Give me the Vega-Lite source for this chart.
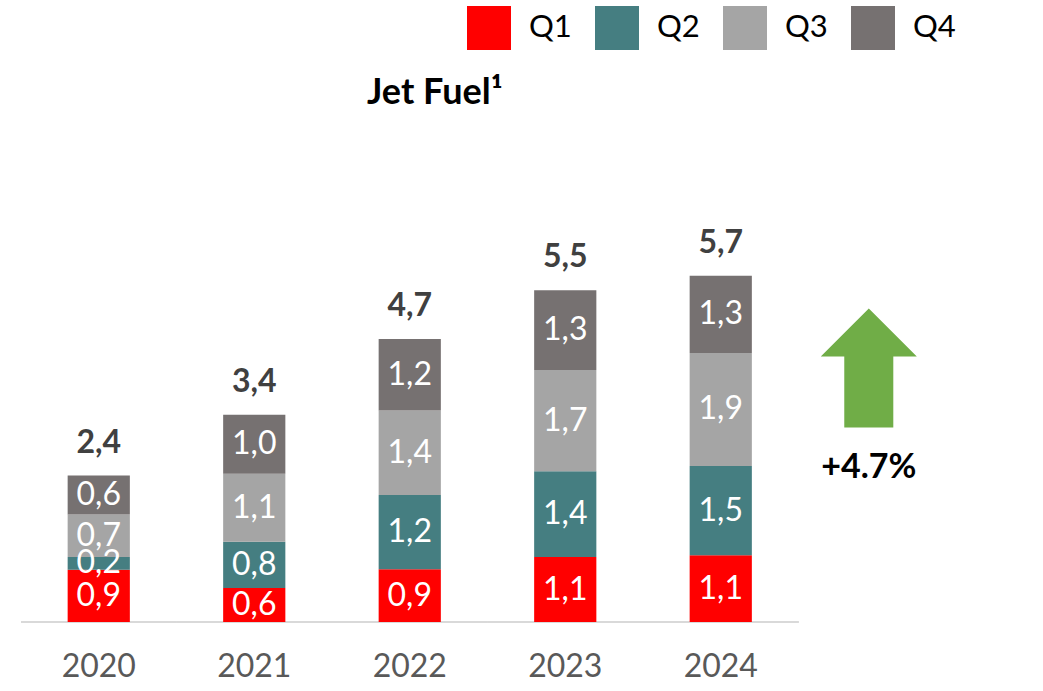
{
  "$schema": "https://vega.github.io/schema/vega-lite/v6.json",
  "width": 933,
  "height": 492,
  "autosize": {"type": "none"},
  "padding": {"left": 21, "top": 130, "right": 89, "bottom": 69},
  "background": "white",
  "title": {"text": "Jet Fuel¹", "anchor": "start", "frame": "group", "dx": 346, "offset": -134, "baseline": "alphabetic", "font": "Lato", "fontSize": 36, "fontWeight": "bold", "color": "#000000"},
  "data": {"values": [
    {"year": "2020", "quarter": "Q1", "value": 0.86},
    {"year": "2020", "quarter": "Q2", "value": 0.21},
    {"year": "2020", "quarter": "Q3", "value": 0.70},
    {"year": "2020", "quarter": "Q4", "value": 0.64},
    {"year": "2021", "quarter": "Q1", "value": 0.56},
    {"year": "2021", "quarter": "Q2", "value": 0.76},
    {"year": "2021", "quarter": "Q3", "value": 1.12},
    {"year": "2021", "quarter": "Q4", "value": 0.97},
    {"year": "2022", "quarter": "Q1", "value": 0.87},
    {"year": "2022", "quarter": "Q2", "value": 1.22},
    {"year": "2022", "quarter": "Q3", "value": 1.39},
    {"year": "2022", "quarter": "Q4", "value": 1.18},
    {"year": "2023", "quarter": "Q1", "value": 1.07},
    {"year": "2023", "quarter": "Q2", "value": 1.41},
    {"year": "2023", "quarter": "Q3", "value": 1.67},
    {"year": "2023", "quarter": "Q4", "value": 1.31},
    {"year": "2024", "quarter": "Q1", "value": 1.10},
    {"year": "2024", "quarter": "Q2", "value": 1.47},
    {"year": "2024", "quarter": "Q3", "value": 1.86},
    {"year": "2024", "quarter": "Q4", "value": 1.27}
  ]},
  "layer": [
    {
      "mark": {"type": "bar", "color": "#D9D9D9", "width": {"band": 2.5}},
      "encoding": {
        "x": {"field": "year", "type": "nominal", "title": null,
              "scale": {"domain": ["2020", "2021", "2022", "2023", "2024", " "], "paddingInner": 0.6, "paddingOuter": 0.3}},
        "y": {"datum": 0.017, "type": "quantitative", "scale": {"domain": [0, 8.1], "nice": false}},
        "y2": {"datum": -0.017}
      }
    },
    {
      "mark": {"type": "bar"},
      "encoding": {
        "x": {"field": "year", "type": "nominal", "title": null},
        "y": {"field": "value", "type": "quantitative", "stack": "zero", "axis": null},
        "color": {"field": "quarter", "type": "nominal",
                  "scale": {"domain": ["Q1", "Q2", "Q3", "Q4"], "range": ["#FF0000", "#457E81", "#A5A5A5", "#767171"]},
                  "legend": {"orient": "none", "legendX": 446, "legendY": -124, "direction": "horizontal", "title": null,
                             "symbolType": "square", "symbolSize": 1936, "symbolStrokeWidth": 0, "symbolOpacity": 1,
                             "labelFontSize": 31, "labelFont": "Lato", "labelColor": "#000000", "labelOffset": 18,
                             "columnPadding": 23, "padding": 0}},
        "order": {"field": "quarter", "type": "nominal", "sort": "ascending"}
      }
    },
    {
      "mark": {"type": "text", "color": "#FFFFFF", "font": "Lato", "fontSize": 32, "baseline": "middle"},
      "encoding": {
        "x": {"field": "year", "type": "nominal", "title": null},
        "y": {"field": "value", "type": "quantitative", "stack": "zero", "bandPosition": 0.5},
        "detail": {"field": "quarter", "type": "nominal"},
        "order": {"field": "quarter", "type": "nominal", "sort": "ascending"},
        "text": {"field": "value", "type": "quantitative", "format": ".1f"}
      }
    },
    {
      "mark": {"type": "text", "color": "#404040", "font": "Lato", "fontSize": 32, "fontWeight": "bold", "baseline": "alphabetic", "dy": -23},
      "encoding": {
        "x": {"field": "year", "type": "nominal", "title": null},
        "y": {"aggregate": "sum", "field": "value", "type": "quantitative"},
        "text": {"aggregate": "sum", "field": "value", "type": "quantitative", "format": ".1f"}
      }
    },
    {
      "data": {"values": [{"change": "+4.7%"}]},
      "layer": [
        {
          "mark": {"type": "point", "shape": "M0,-1L0.807,-0.193L0.412,-0.193L0.412,1L-0.412,1L-0.412,-0.193L-0.807,-0.193Z",
                   "size": 14161, "filled": true, "color": "#70AD47", "opacity": 1, "strokeWidth": 0},
          "encoding": {
            "x": {"datum": " ", "type": "nominal", "bandPosition": 0.38, "title": null},
            "y": {"datum": 4.18, "type": "quantitative"}
          }
        },
        {
          "mark": {"type": "text", "color": "#000000", "font": "Lato", "fontSize": 34, "fontWeight": "bold", "baseline": "middle"},
          "encoding": {
            "x": {"datum": " ", "type": "nominal", "bandPosition": 0.38, "title": null},
            "y": {"datum": 2.535, "type": "quantitative"},
            "text": {"field": "change", "type": "nominal"}
          }
        }
      ]
    }
  ],
  "config": {
    "font": "Lato",
    "locale": {"number": {"decimal": ",", "thousands": ".", "grouping": [3], "currency": ["", " €"]}},
    "view": {"stroke": null},
    "axisX": {"domain": false, "ticks": false, "grid": false, "labelAngle": 0, "labelFont": "Lato", "labelFontSize": 32, "labelColor": "#595959", "labelPadding": 29},
    "axisY": {"disable": true}
  }
}
